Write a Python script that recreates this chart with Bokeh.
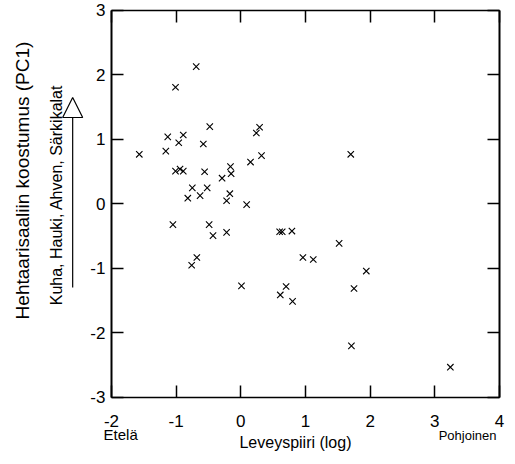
from bokeh.plotting import figure
from bokeh.models import (LinearAxis, Range1d, Arrow, NormalHead, FixedTicker,
                          CustomJSTickFormatter, Label)
from bokeh.embed import file_html
from bokeh.resources import INLINE

# Data
latitude_log = [
    -1.57, -1.16, -1.13, -1.01, -0.69, -0.96, -0.89, -1.01, -0.94, -0.89,
    -0.48, -0.58, -0.56, -0.75, -0.82, -0.63, -0.52, -0.29, -0.16, -0.15,
    -0.17, -0.22, 0.09, 0.15, 0.24, 0.29, 0.32, 1.70,
    -1.05, -0.49, -0.43, -0.22, -0.68, -0.76, 0.01, 0.60, 0.64, 0.79,
    0.96, 1.12, 1.52, 1.94, 1.75, 0.70, 0.61, 0.80, 1.71, 3.24,
]
pc1 = [
    0.77, 0.82, 1.04, 1.81, 2.13, 0.95, 1.07, 0.51, 0.54, 0.51,
    1.20, 0.93, 0.50, 0.25, 0.09, 0.13, 0.25, 0.40, 0.58, 0.47,
    0.16, 0.05, -0.01, 0.65, 1.10, 1.19, 0.75, 0.77,
    -0.32, -0.32, -0.49, -0.44, -0.83, -0.95, -1.27, -0.43, -0.43, -0.42,
    -0.83, -0.86, -0.61, -1.04, -1.31, -1.28, -1.41, -1.51, -2.20, -2.53,
]
x_ticks = [-2, -1, 0, 1, 2, 3, 4]
y_ticks = [-3, -2, -1, 0, 1, 2, 3]
x_min, x_max = -2, 4
y_min, y_max = -3, 3

y_title = "Hehtaarisaaliin koostumus (PC1)"
species_text = "Kuha, Hauki, Ahven, Särkikalat"
x_title = "Leveyspiiri (log)"
south_text = "Etelä"
north_text = "Pohjoinen"

FONT = "Liberation Sans"

# the visible canvas spans these data ranges; the box itself is drawn by axes
p = figure(width=515, height=464, output_backend="svg", toolbar_location=None,
           x_range=Range1d(-3.716, 4.247), y_range=Range1d(-4.039, 3.155),
           x_axis_location=None, y_axis_location=None, min_border=0)
p.xgrid.visible = False
p.ygrid.visible = False
p.outline_line_color = None

p.scatter(latitude_log, pc1, marker="x", size=9, line_color="black", line_width=1.1)


def make_axis(ticks, loc, bounds, width, labels=True, standoff=6):
    ax = LinearAxis(ticker=FixedTicker(ticks=ticks), fixed_location=loc, bounds=bounds)
    ax.major_tick_in = 12
    ax.major_tick_out = 0
    ax.major_tick_line_width = 1.5
    ax.major_tick_line_color = "black"
    ax.minor_tick_line_color = None
    ax.axis_line_width = width
    ax.axis_line_color = "black"
    if labels:
        ax.major_label_text_font = FONT
        ax.major_label_text_font_size = "17px"
        ax.major_label_text_color = "black"
        ax.major_label_overrides = {t: str(t) for t in ticks}
        ax.major_label_standoff = standoff
    else:
        ax.formatter = CustomJSTickFormatter(code="return ''")
        ax.major_label_standoff = 0
    return ax


p.add_layout(make_axis(x_ticks, y_min, (x_min, x_max), 1.5, standoff=18), "below")
p.add_layout(make_axis(y_ticks, x_min, (y_min, y_max), 2, standoff=6), "left")
p.add_layout(make_axis(x_ticks, y_max, (x_min, x_max), 1.5, labels=False), "above")
p.add_layout(make_axis(y_ticks, x_max, (y_min, y_max), 2, labels=False), "right")


def add_text(text, x, y, size, align="center", angle=0.0):
    p.add_layout(Label(x=x, y=y, text=text, angle=angle, angle_units="deg",
                       text_align=align, text_baseline="middle",
                       text_font=FONT, text_font_size=size, text_color="black"))


add_text(y_title, -3.376, 0.364, "19px", angle=90)
add_text(species_text, -2.851, 0.14, "16px", angle=90)
p.add_layout(Arrow(x_start=-2.60, y_start=-1.295, x_end=-2.60, y_end=1.651,
                   line_color="black", line_width=1.2,
                   end=NormalHead(size=20, fill_color="white", line_color="black",
                                  line_width=1.2)))
add_text(south_text, -2.122, -3.574, "15px", align="left")
add_text(north_text, 3.953, -3.589, "13px", align="right")
add_text(x_title, 0.845, -3.698, "16px")

open("out.html", "w").write(file_html(p, INLINE))
